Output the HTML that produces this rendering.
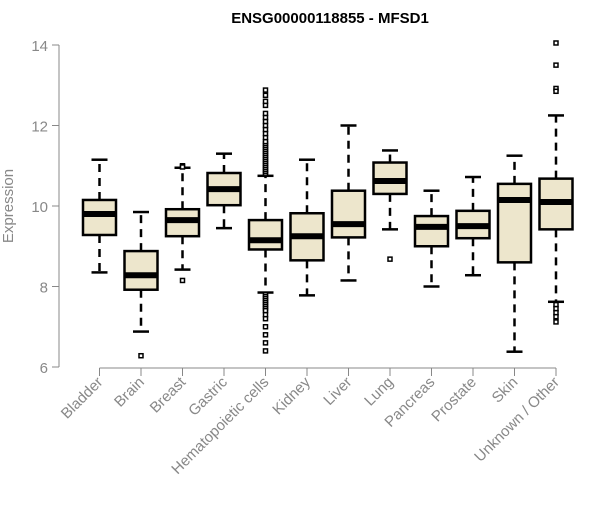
<!DOCTYPE html>
<html><head><meta charset="utf-8"><style>
body{margin:0;background:#fff;}
svg text{font-family:"Liberation Sans",Arial,sans-serif;}
</style></head><body>
<svg id="chart" width="600" height="500" xmlns="http://www.w3.org/2000/svg">
<text x="330" y="23" text-anchor="middle" font-size="15" font-weight="bold">ENSG00000118855 - MFSD1</text>
<text transform="translate(13,206) rotate(-90)" text-anchor="middle" font-size="15" fill="#888">Expression</text>
<g id="axes"></g><g id="boxes"></g>
</svg>
<script>
const categories=["Bladder","Brain","Breast","Gastric","Hematopoietic cells","Kidney","Liver","Lung","Pancreas","Prostate","Skin","Unknown / Other"];
const lowWhisker=[8.35,6.88,8.42,9.45,7.85,7.78,8.15,9.42,8.0,8.28,6.38,7.62];
const q1=[9.28,7.92,9.25,10.02,8.92,8.65,9.22,10.3,9.0,9.2,8.6,9.42];
const median=[9.8,8.28,9.65,10.42,9.15,9.25,9.55,10.62,9.48,9.5,10.15,10.1];
const q3=[10.15,8.88,9.92,10.82,9.65,9.82,10.38,11.08,9.75,9.88,10.55,10.68];
const highWhisker=[11.15,9.85,10.95,11.3,10.75,11.15,12.0,11.38,10.38,10.72,11.25,12.25];
const outliers=[[],[6.28],[11.0,10.97,8.15],[],
[10.8,10.85,10.9,10.95,11.0,11.05,11.1,11.15,11.2,11.25,11.3,11.35,11.4,11.45,11.5,11.55,11.6,11.7,11.8,11.9,12.0,12.1,12.2,12.3,12.5,12.6,12.75,12.88,7.8,7.75,7.7,7.65,7.6,7.55,7.5,7.45,7.4,7.3,7.2,7.0,6.8,6.6,6.4],
[],[],[8.68],[],[],[],[14.05,13.5,12.92,12.85,7.55,7.45,7.35,7.25,7.12]];
const yTicks=[6,8,10,12,14];
const NS="http://www.w3.org/2000/svg";
const y=v=>367-(v-6)*40.25;
const x=i=>99.5+i*41.5;
function mk(t,a,p){const e=document.createElementNS(NS,t);for(const k in a)e.setAttribute(k,a[k]);p.appendChild(e);return e;}
const ax=document.getElementById('axes'),bx=document.getElementById('boxes');
const yl=mk('line',{x1:59,x2:59,y1:y(6),y2:y(14),stroke:'#888'},ax);


yTicks.forEach(t=>{const l=mk('line',{x1:52,x2:59,y1:y(t),y2:y(t),stroke:'#888'},ax);


const tx=mk('text',{x:48,y:y(t)+6,'text-anchor':'end','font-size':15,fill:'#888'},ax);tx.textContent=t;

});
const xl=mk('line',{x1:x(0),x2:x(categories.length-1),y1:368,y2:368,stroke:'#888'},ax);


categories.forEach((c,i)=>{const cx=x(i);
const tk=mk('line',{x1:cx,x2:cx,y1:368,y2:376,stroke:'#888'},ax);


const tx=mk('text',{transform:`translate(${cx+4},${383}) rotate(-45)`,'text-anchor':'end','font-size':15,fill:'#888'},ax);tx.textContent=c;


const g=mk('g',{},bx);


mk('line',{x1:cx,x2:cx,y1:y(q3[i]),y2:y(highWhisker[i]),stroke:'#000','stroke-width':2.5,'stroke-dasharray':'8,6'},g);
mk('line',{x1:cx,x2:cx,y1:y(q1[i]),y2:y(lowWhisker[i]),stroke:'#000','stroke-width':2.5,'stroke-dasharray':'8,6'},g);
mk('line',{x1:cx-8,x2:cx+8,y1:y(highWhisker[i]),y2:y(highWhisker[i]),stroke:'#000','stroke-width':2.5},g);
mk('line',{x1:cx-8,x2:cx+8,y1:y(lowWhisker[i]),y2:y(lowWhisker[i]),stroke:'#000','stroke-width':2.5},g);
mk('rect',{x:cx-16.5,y:y(q3[i]),width:33,height:y(q1[i])-y(q3[i]),fill:'#ede6cc',stroke:'#000','stroke-width':2.5},g);
mk('line',{x1:cx-16.5,x2:cx+16.5,y1:y(median[i]),y2:y(median[i]),stroke:'#000','stroke-width':6},g);
outliers[i].forEach(v=>{mk('rect',{x:cx-2,y:y(v)-2,width:4,height:4,fill:'#fff',stroke:'#000','stroke-width':1.5},g);});
});
</script>
</body></html>
